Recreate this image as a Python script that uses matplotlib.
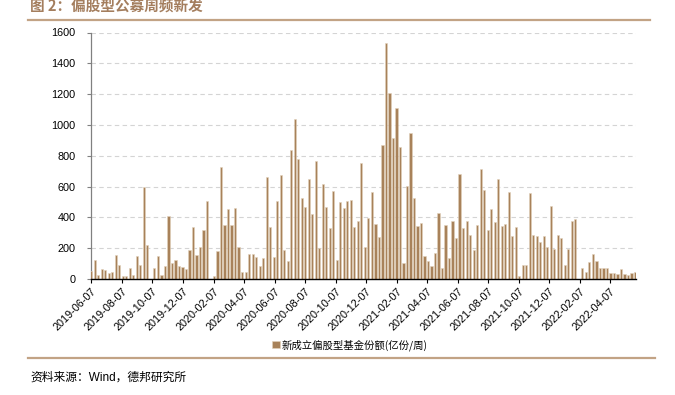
import matplotlib
matplotlib.use("Agg")
import matplotlib.pyplot as plt
import pandas as pd

# 新成立偏股型基金份额（亿份/周），周频，从 2019-06-07 起
START = "2019-06-07"
VALUES = [
    50, 121, 28, 65, 56, 37, 43, 158, 93, 22,
    22, 71, 28, 147, 89, 600, 222, 0, 71, 147,
    28, 82, 410, 104, 121, 82, 78, 67, 190, 339,
    153, 207, 320, 508, 0, 22, 179, 724, 348, 454,
    348, 464, 207, 43, 48, 164, 160, 143, 82, 138,
    659, 339, 145, 508, 676, 190, 119, 836, 1037, 782,
    527, 467, 648, 419, 764, 201, 616, 467, 333, 573,
    125, 499, 462, 508, 516, 337, 374, 752, 207, 397,
    564, 356, 274, 868, 1531, 1207, 916, 1110, 857, 104,
    602, 946, 527, 341, 365, 151, 119, 82, 171, 430,
    69, 348, 134, 376, 266, 682, 333, 378, 285, 190,
    352, 715, 575, 318, 456, 367, 650, 343, 358, 566,
    281, 339, 17, 93, 89, 560, 287, 276, 242, 281,
    207, 475, 192, 283, 263, 89, 197, 378, 389, 0,
    73, 45, 112, 162, 119, 71, 71, 71, 41, 39,
    35, 65, 30, 24, 41, 45,
]
TICK_LABELS = [
    "2019-06-07", "2019-08-07", "2019-10-07", "2019-12-07",
    "2020-02-07", "2020-04-07", "2020-06-07", "2020-08-07",
    "2020-10-07", "2020-12-07", "2021-02-07", "2021-04-07",
    "2021-06-07", "2021-08-07", "2021-10-07", "2021-12-07",
    "2022-02-07", "2022-04-07",
]
SERIES_NAME = "新成立偏股型基金份额(亿份/周)"
TITLE = "图 2：偏股型公募周频新发"
SOURCE = "资料来源：Wind，德邦研究所"

BAR = "#A8825A"
ACCENT = "#C2A385"
TITLE_C = "#A47E5E"

plt.rcParams["font.family"] = ["Liberation Sans", "Noto Sans CJK SC"]

dates = pd.date_range(START, periods=len(VALUES), freq="7D")
ticks = pd.to_datetime(TICK_LABELS)

W, H = 675, 395
fig = plt.figure(figsize=(W / 100, H / 100), dpi=100)
ax = fig.add_axes([91 / W, 1 - 279 / H, (636 - 91) / W, (279 - 32.5) / H])

ax.bar(dates, VALUES, width=4.4, color=BAR, edgecolor="#E3D2BD",
       linewidth=0.4, label=SERIES_NAME, zorder=3)

ax.set_ylim(0, 1600)
ax.set_yticks(range(0, 1601, 200))
ax.set_xlim(dates[0] - pd.Timedelta(days=0.5), dates[-1] + pd.Timedelta(days=2))
ax.set_xticks(ticks)
ax.set_xticklabels(TICK_LABELS, rotation=45, ha="right", rotation_mode="anchor",
                   fontsize=7.8)
ax.tick_params(axis="x", length=3, width=0.8, color="black", pad=2)
ax.tick_params(axis="y", length=3, width=0.8, color="#808080", labelsize=7.8, pad=8)

ax.grid(axis="y", color="#D4D4D4", linestyle=(0, (4, 3)), linewidth=0.8, zorder=0)
for s in ("top", "right"):
    ax.spines[s].set_visible(False)
ax.spines["left"].set_color("#808080")
ax.spines["left"].set_linewidth(0.9)
ax.spines["bottom"].set_color("black")
ax.spines["bottom"].set_linewidth(1.0)
ax.spines["bottom"].set_zorder(4)

fig.text(30 / W, 1 - 7 / H, TITLE, fontsize=10.5, fontweight="bold",
         color=TITLE_C, va="center", ha="left", family=["Noto Sans CJK SC"])
fig.add_artist(plt.Line2D([28 / W, 650 / W], [1 - 19.5 / H] * 2, color=ACCENT, lw=1.6))
fig.add_artist(plt.Line2D([28 / W, 655 / W], [1 - 358 / H] * 2, color=ACCENT, lw=1.6))

fig.legend(loc="center", bbox_to_anchor=(350 / W, 1 - 345 / H), frameon=False,
           handlelength=0.7, handleheight=0.7, handletextpad=0.2,
           prop={"family": ["Noto Sans CJK SC"], "size": 7.5})

fig.text(30 / W, 1 - 378 / H, SOURCE, fontsize=8.5, va="center", ha="left",
         family=["Liberation Sans", "Noto Sans CJK SC"])

fig.savefig("out.png", dpi=100)
